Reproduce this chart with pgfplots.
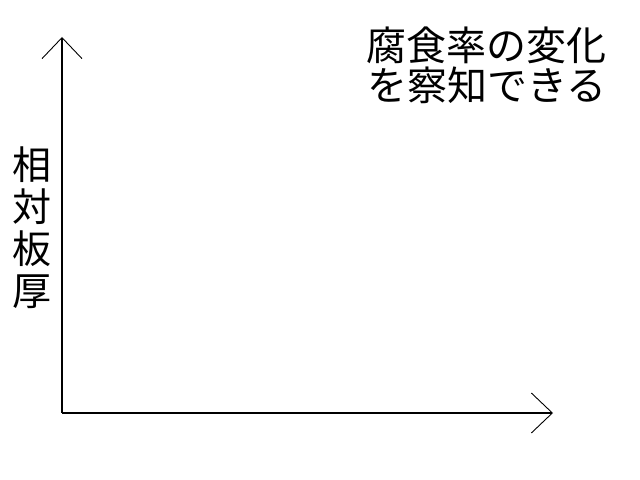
\documentclass[border=0pt]{standalone}
\usepackage{fontspec}
\usepackage{pgfplots}
\pgfplotsset{compat=1.18}
\usetikzlibrary{arrows.meta}
\newfontfamily\cjk{Noto Sans CJK JP}

\begin{document}
\begin{tikzpicture}
\useasboundingbox (0,0) rectangle (640bp,480bp);
\begin{axis}[
    at={(62bp,67bp)}, anchor=origin,
    scale only axis,
    width=491bp, height=376bp,
    xmin=0, xmax=1, ymin=0, ymax=1,
    axis lines=left,
    xtick=\empty, ytick=\empty,
    axis line style={line width=1.2bp, black,
        -{Straight Barb[length=21bp, width=40bp, line width=0.9bp]}},
    clip=false,
]
    % y label, stacked characters
    \node[font=\cjk\fontsize{39bp}{42bp}\selectfont, align=center, inner sep=0pt]
        at (rel axis cs:-0.061,0.494) {相\\対\\板\\厚};
    % note at top right
    \node[font=\cjk\fontsize{40bp}{40bp}\selectfont, align=right, inner sep=0pt,
          anchor=north east]
        at (rel axis cs:1.11,1.028) {腐食率の変化\\を察知できる};
\end{axis}
\end{tikzpicture}
\end{document}
